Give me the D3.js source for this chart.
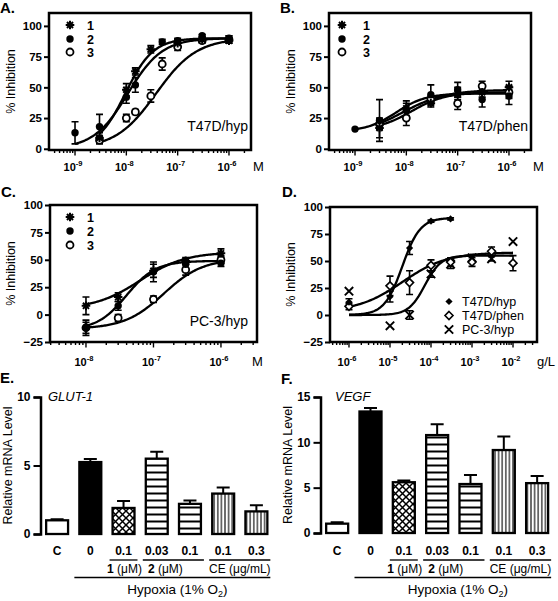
<!DOCTYPE html>
<html><head><meta charset="utf-8">
<script src="https://cdn.jsdelivr.net/npm/d3@7"></script>
<style>
body{margin:0;background:#fff}
svg{display:block}
text{font-family:"Liberation Sans",Arial,sans-serif;fill:#000}
</style>
</head><body>
<svg id="c" width="558" height="601"></svg>
<script>
// ---------- DATA ----------
// dose-response points: [concentration, % inhibition, SEM]
const A1 = [[3e-9,9,4],[1e-8,48,5],[1.5e-8,63,3],[3e-8,81,3],[1e-7,86,3],[3e-7,89,2],[1e-6,88,2]];
const A2 = [[1e-9,13,9],[3e-9,18,10],[1e-8,42,5],[1.5e-8,52,6],[5e-8,87,2],[1e-7,88,2],[3e-7,92,1],[1e-6,90,2]];
const A3 = [[3e-9,7,3],[1e-8,25,3],[1.5e-8,30,2],[3e-8,43,5],[5e-8,69,5],[1e-7,83,3],[3e-7,88,2],[1e-6,89,3]];
const B1 = [[3e-9,17,8],[1e-8,33,6],[3e-8,37,3],[1e-7,45,5],[3e-7,46,4],[1e-6,50,5]];
const B2 = [[1e-9,16,0],[3e-9,23,17],[1e-8,31,6],[3e-8,44,8],[1e-7,48,6],[3e-7,40,6],[1e-6,43,7]];
const B3 = [[3e-9,20,4],[1e-8,25,6],[3e-8,40,3],[1e-7,37,5],[3e-7,51,4],[1e-6,46,5]];
const C1 = [[1e-8,8,8],[3e-8,16,4],[1e-7,40,6],[3e-7,49,3],[1e-6,56,4]];
const C2 = [[1e-8,-12,7],[3e-8,8,4],[1e-7,39,9],[3e-7,46,4],[1e-6,47,3]];
const C3 = [[1e-8,-12,5],[3e-8,-3,3],[1e-7,14,3],[3e-7,41,5],[1e-6,50,3]];
const D1 = [[1e-6,12,3],[1e-5,17,5],[3e-5,62,6],[1e-4,87,1],[3e-4,89,1]];
const D2 = [[1e-6,8,3],[1e-5,27,9],[3e-5,30,11],[1e-4,46,5],[3e-4,49,4],[1e-3,49,4],[3e-3,59,4],[1e-2,48,7]];
const D3 = [[1e-6,22,0],[1e-5,-10,0],[3e-5,0,4],[1e-4,38,3],[3e-4,47,4],[1e-3,53,3],[3e-3,52,2],[1e-2,68,0]];
// fitted sigmoid parameters: [bottom, top, logEC50, hill, xStart, xEnd]
const A_fit = [[0,90,-8.02,1.6,3e-9,1e-6],[0,90,-7.97,1.3,1e-9,1e-6],[0,90,-7.42,1.1,3e-9,1e-6]];
const B_fit = [[10,48,-8.1,1.0,3e-9,1e-6],[14,45,-8.2,1.5,1e-9,1e-6],[15,46,-7.9,1.3,3e-9,1e-6]];
const C_fit = [[5,57,-7.2,1.3,1e-8,1e-6],[-14,49,-7.4,2.0,1e-8,1e-6],[-13,51,-6.85,1.5,1e-8,1e-6]];
const D_fit = [[0,90,-4.7,2.0,1e-6,3e-4],[3,58,-4.7,0.8,1e-6,1e-2],[0,55,-4.15,2.2,1e-6,1e-2]];
const legendCompounds = ["1","2","3"];
const legendCells = ["T47D/hyp","T47D/phen","PC-3/hyp"];
const yTicksAB = [0,25,50,75,100];
const yTicksCD = [-25,0,25,50,75,100];
const xDecAB = [-9,-8,-7,-6];
const xDecC = [-8,-7,-6];
const xDecD = [-6,-5,-4,-3,-2];
// bar charts
const barCats = ["C","0","0.1","0.03","0.1","0.1","0.3"];
const barPatterns = ["open","solid","cross","hlines","hlines","vlines","vlines"];
const E_vals = [1.0,5.25,1.9,5.5,2.2,2.95,1.65];
const E_errs = [0.08,0.22,0.5,0.5,0.25,0.45,0.45];
const F_vals = [1.03,13.4,5.6,10.8,5.4,9.15,5.5];
const F_errs = [0.15,0.4,0.2,1.2,1.0,1.5,0.8];
const E_ticks = [0,5,10];
const F_ticks = [0,5,10,15];
const groups = [["1"," (\u03bcM)",2,2],["2"," (\u03bcM)",3,4],["","CE (\u03bcg/mL)",5,6]];

// ---------- DRAW ----------
const svg = d3.select("#c");
const defs = svg.append("defs");
let p = defs.append("pattern").attr("id","pcross").attr("patternUnits","userSpaceOnUse").attr("width",7).attr("height",7);
p.append("path").attr("d","M0,0L7,7M7,0L0,7").attr("stroke","#000").attr("stroke-width",1.5);
p = defs.append("pattern").attr("id","phl").attr("patternUnits","userSpaceOnUse").attr("width",7).attr("height",7);
p.append("rect").attr("width",7).attr("height",7).attr("fill","#fff");
p.append("path").attr("d","M0,3.5H7").attr("stroke","#000").attr("stroke-width",2);
p = defs.append("pattern").attr("id","pvl").attr("patternUnits","userSpaceOnUse").attr("width",3.6).attr("height",4);
p.append("rect").attr("width",3.6).attr("height",4).attr("fill","#fff");
p.append("path").attr("d","M1.8,0V4").attr("stroke","#000").attr("stroke-width",1.1);

function marker(g, type, cx, cy) {
  if (type === "star") {
    const r = 4.3, d = r * Math.SQRT1_2;
    g.append("path").attr("d",`M${cx-r},${cy}H${cx+r}M${cx},${cy-r}V${cy+r}M${cx-d},${cy-d}L${cx+d},${cy+d}M${cx-d},${cy+d}L${cx+d},${cy-d}`)
      .attr("stroke","#000").attr("stroke-width",2);
  } else if (type === "dot") {
    g.append("circle").attr("cx",cx).attr("cy",cy).attr("r",3.7).attr("fill","#000");
  } else if (type === "circle") {
    g.append("circle").attr("cx",cx).attr("cy",cy).attr("r",3.5).attr("fill","#fff").attr("stroke","#000").attr("stroke-width",1.8);
  } else if (type === "fdia") {
    const r = 3.6;
    g.append("path").attr("d",`M${cx},${cy-r}L${cx+r},${cy}L${cx},${cy+r}L${cx-r},${cy}Z`).attr("fill","#000");
  } else if (type === "odia") {
    const r = 4;
    g.append("path").attr("d",`M${cx},${cy-r}L${cx+r},${cy}L${cx},${cy+r}L${cx-r},${cy}Z`).attr("fill","#fff").attr("stroke","#000").attr("stroke-width",1.6);
  } else if (type === "x") {
    const r = 4.2;
    g.append("path").attr("d",`M${cx-r},${cy-r}L${cx+r},${cy+r}M${cx-r},${cy+r}L${cx+r},${cy-r}`).attr("stroke","#000").attr("stroke-width",1.9);
  }
}

function doseResponse(cfg) {
  const [bx0,by0,bx1,by1] = cfg.box;
  const x = d3.scaleLog().domain(cfg.xd).range([bx0,bx1]);
  const y = d3.scaleLinear().domain(cfg.yd).range([by1,by0]);
  const g = svg.append("g");
  cfg.fits.forEach(f => {
    const [b,t,ec,h,x0,x1] = f;
    const l0 = Math.log10(x0), l1 = Math.log10(x1);
    const pts = d3.range(121).map(i => {
      const lx = l0 + (l1-l0)*i/120;
      return [x(Math.pow(10,lx)), y(b + (t-b)/(1+Math.pow(10,(ec-lx)*h)))];
    });
    g.append("path").attr("d",d3.line()(pts)).attr("fill","none").attr("stroke","#000").attr("stroke-width",2.3);
  });
  cfg.series.forEach(s => s.forEach(([c,v,e]) => {
    if (e <= 0) return;
    const cx = x(c), cw = 3.5;
    g.append("path").attr("d",`M${cx},${y(v+e)}V${y(v-e)}M${cx-cw},${y(v+e)}H${cx+cw}M${cx-cw},${y(v-e)}H${cx+cw}`)
      .attr("stroke","#000").attr("stroke-width",1.6).attr("fill","none");
  }));
  // markers: open symbols first so filled ones sit on top
  [2,1,0].forEach(k => cfg.series[k].forEach(([c,v]) => marker(g, cfg.markers[k], x(c), y(v))));
  g.append("rect").attr("x",bx0).attr("y",by0).attr("width",bx1-bx0).attr("height",by1-by0)
    .attr("fill","none").attr("stroke","#000").attr("stroke-width",2.5);
  const ya = g.append("g").attr("transform",`translate(${bx0},0)`)
    .call(d3.axisLeft(y).tickValues(cfg.yticks).tickSize(5).tickPadding(2));
  ya.select(".domain").remove();
  ya.selectAll("line").attr("stroke-width",2);
  ya.selectAll("text").attr("font-family","Liberation Sans, Arial, sans-serif").attr("font-size",11.5).attr("font-weight","bold");
  const lmin = Math.log10(cfg.xd[0]), lmax = Math.log10(cfg.xd[1]);
  for (let n = Math.floor(lmin); n <= Math.ceil(lmax); n++) {
    for (let k = 1; k <= 9; k++) {
      const v = k*Math.pow(10,n);
      const lv = Math.log10(v);
      if (lv < lmin || lv > lmax) continue;
      const len = k === 1 ? 5.5 : 3;
      g.append("line").attr("x1",x(v)).attr("x2",x(v)).attr("y1",by1).attr("y2",by1+len)
        .attr("stroke","#000").attr("stroke-width",1.4);
    }
  }
  cfg.xdec.forEach(n => {
    const t = g.append("text").attr("x",x(Math.pow(10,n))-2).attr("y",cfg.xlabY)
      .attr("text-anchor","middle").attr("font-size",11).attr("font-weight","bold").text("10");
    t.append("tspan").attr("dy",-5).attr("font-size",7.5).text(String(n));
  });
  g.append("text").attr("x",cfg.unitX).attr("y",cfg.xlabY).attr("font-size",13).text(cfg.unit);
  g.append("text").attr("transform",`translate(${cfg.ylabX},${(by0+by1)/2}) rotate(-90)`)
    .attr("text-anchor","middle").attr("font-size",12.5).text("% Inhibition");
  g.append("text").attr("x",cfg.letter[1]).attr("y",cfg.letter[2]).attr("font-size",15).attr("font-weight","bold").text(cfg.letter[0]+".");
  cfg.legend.names.forEach((nm,i) => {
    const ly = cfg.legend.y[i];
    marker(g, cfg.markers[i], cfg.legend.mx, ly);
    g.append("text").attr("x",cfg.legend.tx).attr("y",ly+cfg.legend.size*0.36)
      .attr("font-size",cfg.legend.size).attr("font-weight",cfg.legend.bold?"bold":"normal").text(nm);
  });
  if (cfg.cell) {
    g.append("text").attr("x",cfg.cell[1]).attr("y",cfg.cell[2]).attr("text-anchor","end").attr("font-size",14).text(cfg.cell[0]);
  }
}

doseResponse({box:[49,13,251,150], xd:[Math.pow(10,-9.507),Math.pow(10,-5.571)], yd:[-1,110.5],
  series:[A1,A2,A3], fits:A_fit, markers:["star","dot","circle"], yticks:yTicksAB, xdec:xDecAB,
  xlabY:171, unit:"M", unitX:253, ylabX:15, letter:["A",0,12.5],
  legend:{names:legendCompounds, mx:70, tx:87, y:[25,39,52], size:12.5, bold:true}, cell:["T47D/hyp",248,131]});
doseResponse({box:[329,13,531,150], xd:[Math.pow(10,-9.507),Math.pow(10,-5.571)], yd:[-1,110.5],
  series:[B1,B2,B3], fits:B_fit, markers:["star","dot","circle"], yticks:yTicksAB, xdec:xDecAB,
  xlabY:171, unit:"M", unitX:533, ylabX:295, letter:["B",280,12.5],
  legend:{names:legendCompounds, mx:342, tx:363, y:[25,39,52], size:12.5, bold:true}, cell:["T47D/phen",528,131]});
doseResponse({box:[50,205,257,342], xd:[Math.pow(10,-8.533),Math.pow(10,-5.466)], yd:[-25,100],
  series:[C1,C2,C3], fits:C_fit, markers:["star","dot","circle"], yticks:yTicksCD, xdec:xDecC,
  xlabY:366, unit:"M", unitX:252, ylabX:15, letter:["C",1,197],
  legend:{names:legendCompounds, mx:70, tx:87, y:[217,231,245], size:12.5, bold:true}, cell:["PC-3/hyp",248,326]});
doseResponse({box:[330,207,537,342], xd:[Math.pow(10,-6.463),Math.pow(10,-1.415)], yd:[-25,100],
  series:[D1,D2,D3], fits:D_fit, markers:["fdia","odia","x"], yticks:yTicksCD, xdec:xDecD,
  xlabY:366, unit:"g/L", unitX:537, ylabX:295, letter:["D",282,197],
  legend:{names:legendCells, mx:449, tx:462, y:[301.5,315.5,329.5], size:12.5, bold:false}, cell:null});

function barPanel(cfg) {
  const n = cfg.vals.length;
  const x = d3.scaleBand().domain(d3.range(n)).range(cfg.xr).paddingInner(0.34).paddingOuter(0.17);
  const y = d3.scaleLinear().domain(cfg.yd).range(cfg.yr);
  const g = svg.append("g");
  const bw = x.bandwidth();
  const fills = {open:"#fff", solid:"#000", cross:"url(#pcross)", hlines:"url(#phl)", vlines:"url(#pvl)"};
  cfg.vals.forEach((v,i) => {
    const cx = x(i) + bw/2, top = y(v), te = y(v + cfg.errs[i]);
    g.append("path").attr("d",`M${cx},${top}V${te}M${cx-6.5},${te}H${cx+6.5}`).attr("stroke","#000").attr("stroke-width",2).attr("fill","none");
    if (barPatterns[i] === "cross")
      g.append("rect").attr("x",x(i)).attr("y",top).attr("width",bw).attr("height",y(0)-top).attr("fill","#fff");
    g.append("rect").attr("x",x(i)).attr("y",top).attr("width",bw).attr("height",y(0)-top)
      .attr("fill",fills[barPatterns[i]]).attr("stroke","#000").attr("stroke-width",2.3);
    g.append("text").attr("x",cx).attr("y",555).attr("text-anchor","middle").attr("font-size",12).attr("font-weight","bold").text(barCats[i]);
  });
  const ya = g.append("g").attr("transform",`translate(${cfg.xr[0]},0)`)
    .call(d3.axisLeft(y).tickValues(cfg.ticks).tickSize(7).tickPadding(3));
  ya.select(".domain").attr("stroke-width",2.5);
  ya.selectAll("line").attr("stroke-width",2);
  ya.selectAll("text").attr("font-family","Liberation Sans, Arial, sans-serif").attr("font-size",12).attr("font-weight","bold");
  groups.forEach(([b,u,i0,i1],k) => {
    const xa = x(i0) - 3, xb = x(i1) + bw + 3;
    g.append("line").attr("x1",xa).attr("x2",xb).attr("y1",560).attr("y2",560).attr("stroke","#000").attr("stroke-width",1.3);
    const t = g.append("text").attr("x",(xa+xb)/2 + cfg.gdx[k]).attr("y",573).attr("text-anchor","middle").attr("font-size",12);
    if (b) t.append("tspan").attr("font-weight","bold").text(b);
    t.append("tspan").text(u);
  });
  const ha = x(1) - 5, hb = x(n-1) + bw + 3;
  g.append("line").attr("x1",ha).attr("x2",hb).attr("y1",577.5).attr("y2",577.5).attr("stroke","#000").attr("stroke-width",1.5);
  const ht = g.append("text").attr("x",(ha+hb)/2 + 5).attr("y",594).attr("text-anchor","middle").attr("font-size",13.5).text("Hypoxia (1% O");
  ht.append("tspan").attr("dy",3).attr("font-size",9).text("2");
  ht.append("tspan").attr("dy",-3).text(")");
  g.append("text").attr("x",cfg.geneX).attr("y",401).attr("font-size",13).attr("font-style","italic").text(cfg.gene);
  g.append("text").attr("transform",`translate(${cfg.ylabX},${(cfg.yr[0]+cfg.yr[1])/2}) rotate(-90)`)
    .attr("text-anchor","middle").attr("font-size",12.5).text("Relative mRNA Level");
  g.append("text").attr("x",cfg.letter[1]).attr("y",cfg.letter[2]).attr("font-size",15).attr("font-weight","bold").text(cfg.letter[0]+".");
}

barPanel({vals:E_vals, errs:E_errs, ticks:E_ticks, yd:[0,10], yr:[534,397], xr:[40.5,273], gene:"GLUT-1", geneX:48,
  ylabX:12, letter:["E",0,383], gdx:[1,-8,0]});
barPanel({vals:F_vals, errs:F_errs, ticks:F_ticks, yd:[0,15], yr:[533,397], xr:[320.5,553.8], gene:"VEGF", geneX:335,
  ylabX:292, letter:["F",281,384], gdx:[1,-8,0]});
</script>
</body></html>
